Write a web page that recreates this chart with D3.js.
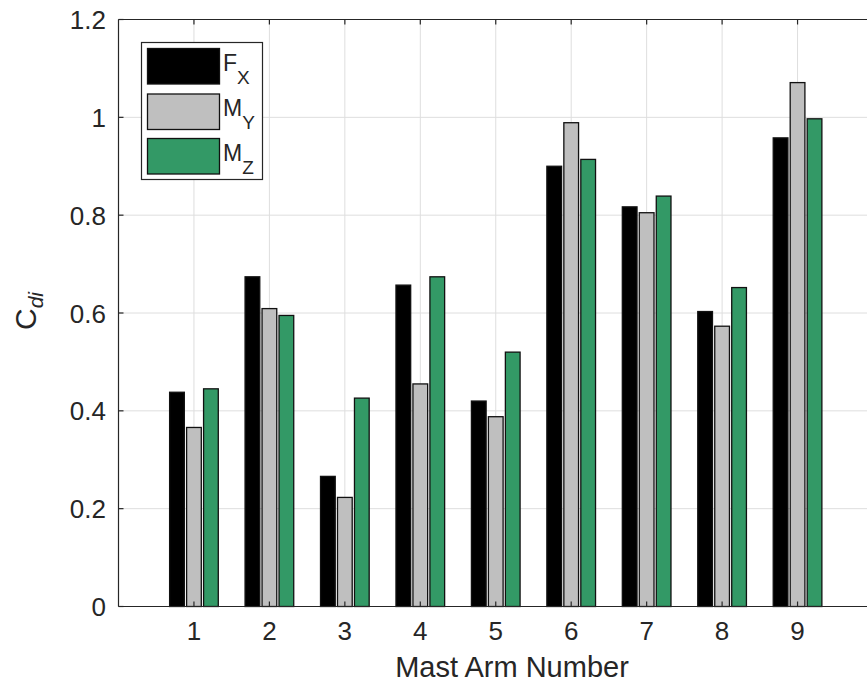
<!DOCTYPE html>
<html><head><meta charset="utf-8">
<script src="https://cdn.jsdelivr.net/npm/d3@7/dist/d3.min.js"></script>
<style>body{margin:0;background:#fff}svg{display:block}</style>
</head><body>
<script>
const categories = [1,2,3,4,5,6,7,8,9];
const seriesMain = ["F","M","M"];
const seriesSub = ["X","Y","Z"];
const fxValues = [0.438,0.674,0.266,0.657,0.420,0.900,0.817,0.603,0.958];
const myValues = [0.366,0.609,0.223,0.455,0.388,0.989,0.805,0.573,1.071];
const mzValues = [0.445,0.595,0.426,0.674,0.520,0.914,0.839,0.652,0.997];
const yTicks = [0,0.2,0.4,0.6,0.8,1,1.2];
const yTickLabels = ["0","0.2","0.4","0.6","0.8","1","1.2"];
const seriesValues = [fxValues, myValues, mzValues];
const colors = ["#000000","#bfbfbf","#339966"];

const W = 867, H = 694;
const svg = d3.select("body").append("svg").attr("width",W).attr("height",H);
const x = d3.scaleLinear().domain([0,10]).range([118.5,873]);
const y = d3.scaleLinear().domain([0,1.2]).range([606.5,19.5]);
const axisColor = "#262626";
const font = "'Liberation Sans', Arial, Helvetica, sans-serif";

// grid
const grid = svg.append("g").attr("stroke","#dedede").attr("stroke-width",1);
categories.forEach(c => grid.append("line").attr("x1",x(c)).attr("x2",x(c)).attr("y1",y(0)).attr("y2",y(1.2)));
yTicks.forEach(t => grid.append("line").attr("x1",x(0)).attr("x2",x(10)).attr("y1",y(t)).attr("y2",y(t)));

// bars
const offset = 0.225, bw = 0.195;
seriesValues.forEach((vals,si) => {
  svg.append("g").selectAll("rect").data(vals).join("rect")
    .attr("x",(d,i)=>x(categories[i] + (si-1)*offset - bw/2))
    .attr("width",x(bw)-x(0))
    .attr("y",d=>y(d))
    .attr("height",d=>y(0)-y(d))
    .attr("fill",colors[si])
    .attr("stroke","#111")
    .attr("stroke-width",1.3);
});

// axes box lines
const ax = svg.append("g").attr("stroke",axisColor).attr("stroke-width",1.2).attr("fill","none");
ax.append("line").attr("x1",x(0)).attr("x2",x(10)).attr("y1",y(0)).attr("y2",y(0));
ax.append("line").attr("x1",x(0)).attr("x2",x(10)).attr("y1",y(1.2)).attr("y2",y(1.2));
ax.append("line").attr("x1",x(0)).attr("x2",x(0)).attr("y1",y(0)).attr("y2",y(1.2));
// inward ticks
const tl = 5;
categories.forEach(c => {
  ax.append("line").attr("x1",x(c)).attr("x2",x(c)).attr("y1",y(0)).attr("y2",y(0)-tl);
  ax.append("line").attr("x1",x(c)).attr("x2",x(c)).attr("y1",y(1.2)).attr("y2",y(1.2)+tl);
});
yTicks.forEach(t => {
  ax.append("line").attr("x1",x(0)).attr("x2",x(0)+tl).attr("y1",y(t)).attr("y2",y(t));
});

// tick labels
const tg = svg.append("g").attr("font-family",font).attr("font-size",26).attr("fill",axisColor);
categories.forEach(c => tg.append("text").attr("x",x(c)).attr("y",640).attr("text-anchor","middle").text(c));
yTicks.forEach((t,i) => tg.append("text").attr("x",106).attr("y",y(t)+9.5).attr("text-anchor","end").text(yTickLabels[i]));

// axis labels
svg.append("text").attr("x",512).attr("y",677).attr("text-anchor","middle")
  .attr("font-family",font).attr("font-size",29).attr("fill",axisColor).text("Mast Arm Number");
const yl = svg.append("text").attr("transform","translate(36,311) rotate(-90)").attr("text-anchor","middle")
  .attr("font-family",font).attr("font-size",30).attr("fill",axisColor);
yl.append("tspan").text("C");
yl.append("tspan").attr("dy",7).attr("font-size",21).attr("font-style","italic").text("di");

// legend
const lg = svg.append("g");
lg.append("rect").attr("x",141.5).attr("y",42.5).attr("width",121).attr("height",137)
  .attr("fill","#fff").attr("stroke",axisColor).attr("stroke-width",1.2);
const swY = [48.5, 94, 138.5];
seriesMain.forEach((m,i) => {
  lg.append("rect").attr("x",147.5).attr("y",swY[i]).attr("width",72).attr("height",35.5)
    .attr("fill",colors[i]).attr("stroke","#111").attr("stroke-width",1.3);
  const t = lg.append("text").attr("x",223).attr("y",swY[i]+22).attr("font-family",font)
    .attr("font-size",23).attr("fill",axisColor);
  t.append("tspan").text(m);
  t.append("tspan").attr("dy",13).attr("font-size",19).text(seriesSub[i]);
});
</script>
</body></html>
